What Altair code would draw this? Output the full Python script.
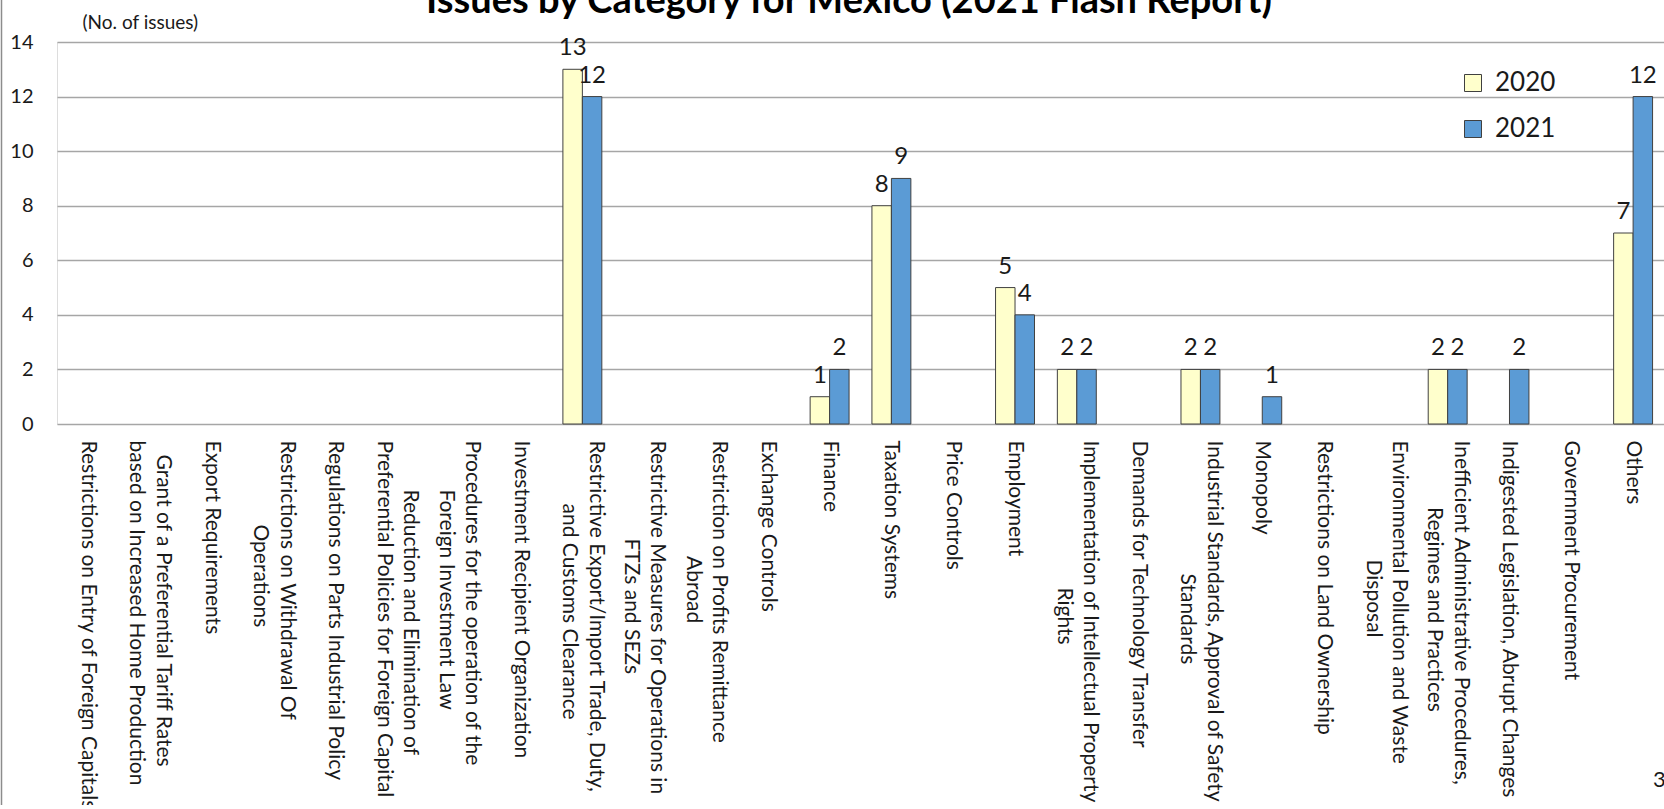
import altair as alt
import pandas as pd

categories = [
    "Restrictions on Entry of Foreign Capitals",
    "Grant of a Preferential Tariff Rates\nbased on Increased Home Production",
    "Export Requirements",
    "Restrictions on Withdrawal Of\nOperations",
    "Regulations on Parts Industrial Policy",
    "Reduction and Elimination of\nPreferential Policies for Foreign Capital",
    "Procedures for the operation of the\nForeign Investment Law",
    "Investment Recipient Organization",
    "Restrictive Export/Import Trade, Duty,\nand Customs Clearance",
    "Restrictive Measures for Operations in\nFTZs and SEZs",
    "Restriction on Profits Remittance\nAbroad",
    "Exchange Controls",
    "Finance",
    "Taxation Systems",
    "Price Controls",
    "Employment",
    "Implementation of Intellectual Property\nRights",
    "Demands for Technology Transfer",
    "Industrial Standards, Approval of Safety\nStandards",
    "Monopoly",
    "Restrictions on Land Ownership",
    "Environmental Pollution and Waste\nDisposal",
    "Inefficient Administrative Procedures,\nRegimes and Practices",
    "Indigested Legislation, Abrupt Changes",
    "Government Procurement",
    "Others",
]
years = ["2020", "2021"]
values_2020 = [0, 0, 0, 0, 0, 0, 0, 0, 13, 0, 0, 0, 1, 8, 0, 5, 2, 0, 2, 0, 0, 0, 2, 0, 0, 7]
values_2021 = [0, 0, 0, 0, 0, 0, 0, 0, 12, 0, 0, 0, 2, 9, 0, 4, 2, 0, 2, 1, 0, 0, 2, 2, 0, 12]
y_ticks = [0, 2, 4, 6, 8, 10, 12, 14]
title_text = "Issues by Category for Mexico (2021 Flash Report)"
y_title = "(No. of issues)"
page_number = "3"

FONT = "Lato"
TEXT = "#1a1a1a"
LABEL_LH = 13.25  # half of the visual line spacing (placeholder lines in between)

# rough glyph widths (em) used only to centre the lines of wrapped labels
_W = {" ": 0.26, ",": 0.26, "/": 0.3, ".": 0.26, "-": 0.33}
for ch in "abcdeghnopqu": _W[ch] = 0.53
for ch in "ijl": _W[ch] = 0.22
for ch in "ft": _W[ch] = 0.31
_W["r"] = 0.33; _W["s"] = 0.44; _W["m"] = 0.81; _W["w"] = 0.72
for ch in "kvxyz": _W[ch] = 0.47
for ch in "ABCDEFGHKNOPQRSUVXYZ": _W[ch] = 0.63
_W["I"] = 0.26; _W["M"] = 0.8; _W["W"] = 0.9; _W["T"] = 0.56; _W["L"] = 0.5; _W["J"] = 0.4

ZW = "\u200b"


def est(s):
    return sum(_W.get(c, 0.53) for c in s)


def label_key(label):
    lines = label.split("\n")
    widths = [est(l) for l in lines]
    m = max(widths)
    out = []
    for l, w in zip(lines, widths):
        pad = (m - w) / 2
        n_en = int(pad // 0.5)
        n6 = int(round((pad - n_en * 0.5) * 6))
        out.append(ZW + "\u2002" * n_en + "\u2006" * n6 + l if (n_en or n6) else l)
    if len(out) == 1:
        parts = [ZW, out[0]]
    else:
        parts = [out[0], ZW, out[1]]
    return "|".join(parts)


keys = [label_key(c) for c in categories]

rows = []
for k, a, b in zip(keys, values_2020, values_2021):
    rows.append({"key": k, "year": years[0], "value": a})
    rows.append({"key": k, "year": years[1], "value": b})
df = pd.DataFrame(rows)

PLOT_W = 1607
PLOT_H = 382
PAD_L = 57
PAD_T = 42
TOTAL_H = 805

base = alt.Chart(df).encode(
    x=alt.X(
        "key:N",
        sort=keys,
        scale=alt.Scale(domain=keys, paddingInner=0.37, paddingOuter=0.185),
        axis=alt.Axis(
            title=None,
            labelAngle=90,
            labelExpr="split(datum.label, '|')",
            labelFont=FONT,
            labelFontSize=21,
            labelLineHeight=LABEL_LH,
            labelOffset=LABEL_LH,
            labelPadding=16,
            labelLimit=2000,
            labelOverlap=False,
            labelColor=TEXT,
            ticks=False,
            domain=False,
            grid=False,
        ),
    ),
    xOffset=alt.XOffset("year:N", sort=years, scale=alt.Scale(domain=years, paddingInner=0, paddingOuter=0)),
    y=alt.Y(
        "value:Q",
        scale=alt.Scale(domain=[0, 14], nice=False),
        axis=alt.Axis(
            values=y_ticks,
            title=y_title,
            titleAngle=0,
            titleAlign="left",
            titleBaseline="middle",
            titleX=25,
            titleY=-20,
            titleFont=FONT,
            titleFontSize=19,
            titleFontWeight="normal",
            titleColor=TEXT,
            labelFont=FONT,
            labelFontSize=20,
            labelPadding=24,
            labelColor=TEXT,
            ticks=False,
            domain=False,
            grid=True,
            gridColor="#a6a6a6",
            gridWidth=1.5,
        ),
    ),
)

bars = base.mark_bar(stroke="#404040", strokeWidth=1).encode(
    color=alt.Color(
        "year:N",
        scale=alt.Scale(domain=years, range=["#FFFFCC", "#5B9BD5"]),
        legend=alt.Legend(
            title=None,
            orient="none",
            legendX=1403,
            legendY=28,
            symbolType="square",
            symbolSize=289,
            symbolStrokeColor="#404040",
            symbolStrokeWidth=1,
            symbolOpacity=1,
            labelFont=FONT,
            labelFontSize=26,
            labelColor=TEXT,
            labelOffset=9,
            rowPadding=20,
            padding=0,
        ),
    )
).transform_filter("datum.value > 0")

value_labels = base.mark_text(
    baseline="bottom", dy=-9, fontSize=24, font=FONT, color=TEXT
).encode(text="value:Q").transform_filter("datum.value > 0")

title = alt.Chart(pd.DataFrame({"t": [title_text]})).mark_text(
    align="center", baseline="alphabetic", fontSize=38, fontWeight="bold", font=FONT, color="#000000"
).encode(x=alt.value(792), y=alt.value(-29), text="t:N")

page = alt.Chart(pd.DataFrame({"t": [page_number]})).mark_text(
    align="left", baseline="middle", fontSize=22, font=FONT, color=TEXT
).encode(x=alt.value(1596), y=alt.value(738), text="t:N")

border = alt.Chart(pd.DataFrame({"a": [0]})).mark_rule(color="#8c8c8c", strokeWidth=1.5).encode(
    x=alt.value(-55.5), y=alt.value(-PAD_T), y2=alt.value(TOTAL_H - PAD_T)
)

chart = alt.layer(bars, value_labels, title, page, border).properties(
    width=PLOT_W,
    height=PLOT_H,
    padding={"left": PAD_L, "top": PAD_T, "right": 0, "bottom": TOTAL_H - PAD_T - PLOT_H},
    autosize=alt.AutoSizeParams(type="none"),
).configure_view(stroke=None).configure(background="white")

chart.save("out.html", embed_options={"renderer": "svg", "actions": False})
